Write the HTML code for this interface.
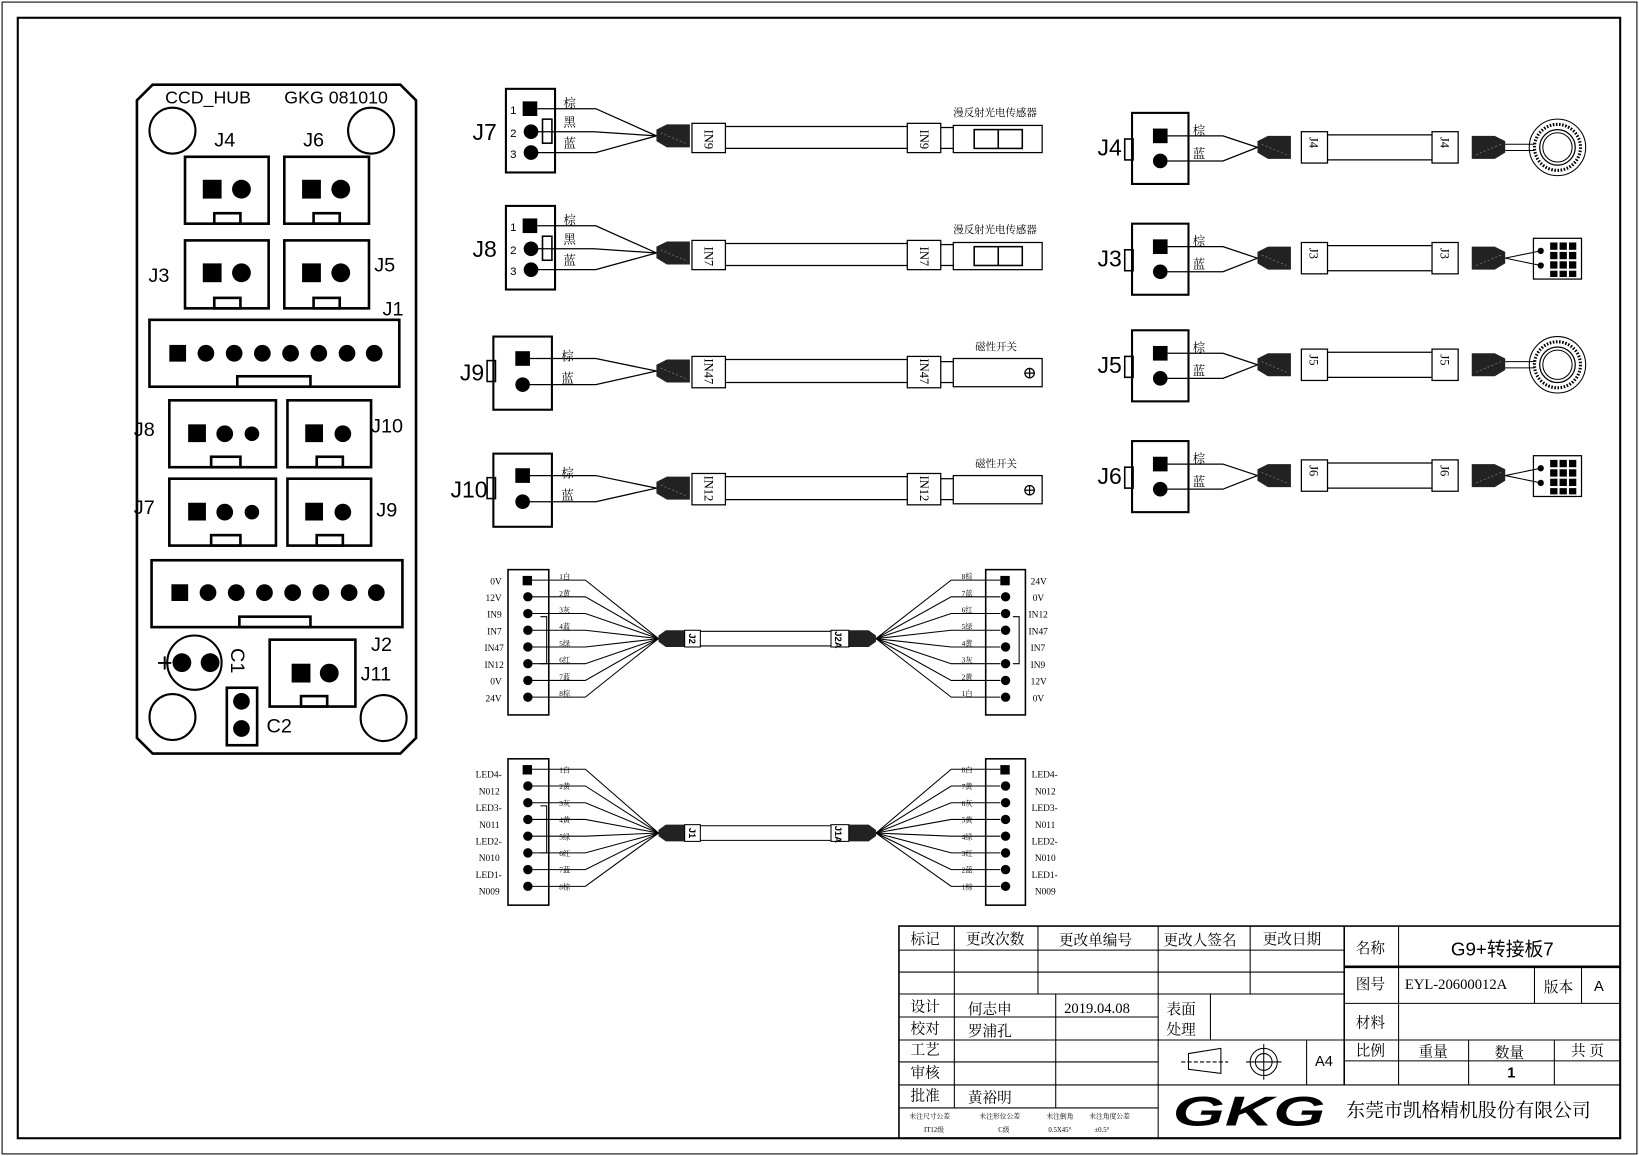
<!DOCTYPE html>
<html><head><meta charset="utf-8"><style>
html,body{margin:0;padding:0;background:#fff}
svg{display:block}
text{font-family:"Liberation Serif","Noto Serif CJK SC","Noto Sans CJK SC",serif;fill:#000}
.s{font-family:"Liberation Sans","Noto Sans CJK SC",sans-serif}
</style></head><body>
<svg width="1639" height="1156" viewBox="0 0 1568 1106" preserveAspectRatio="none" xmlns="http://www.w3.org/2000/svg">
<defs>
<g id="conL"><polygon points="0,-6 10,-11 32,-11 32,11 10,11 0,5" fill="#222"/><line x1="4" y1="-3" x2="30" y2="8" stroke="#888" stroke-width="0.6" stroke-dasharray="2,2"/></g>
</defs>
<g fill="none" stroke="#000">
<rect x="2" y="2" width="1564" height="1102" stroke-width="1"/>
<rect x="17" y="17" width="1533" height="1072" stroke-width="2"/>
</g>

<!-- PCB -->
<g fill="none" stroke="#000" stroke-width="2.5">
<polygon points="146,81 383,81 398,96 398,706 383,721 146,721 131,706 131,96"/>
<circle cx="165" cy="125" r="22" stroke-width="2"/><circle cx="355" cy="125" r="22" stroke-width="2"/>
<circle cx="165" cy="686" r="22" stroke-width="2"/><circle cx="367" cy="687" r="22" stroke-width="2"/>
<rect x="177" y="150" width="80" height="64"/><rect x="205" y="204" width="25" height="10"/>
<rect x="272" y="150" width="81" height="64"/><rect x="300" y="204" width="25" height="10"/>
<rect x="177" y="230" width="80" height="65"/><rect x="205" y="285" width="25" height="10"/>
<rect x="272" y="230" width="81" height="65"/><rect x="300" y="285" width="25" height="10"/>
<rect x="143" y="306" width="239" height="64"/><rect x="227" y="360" width="70" height="10"/>
<rect x="162" y="383" width="102" height="64"/><rect x="202" y="437" width="28" height="10"/>
<rect x="275" y="383" width="80" height="64"/><rect x="303" y="437" width="25" height="10"/>
<rect x="162" y="458" width="102" height="64"/><rect x="202" y="512" width="28" height="10"/>
<rect x="275" y="458" width="80" height="64"/><rect x="303" y="512" width="25" height="10"/>
<rect x="145" y="536" width="240" height="64"/><rect x="229" y="590" width="68" height="10"/>
<circle cx="186" cy="634" r="26" stroke-width="2"/>
<rect x="258" y="612" width="82" height="64"/><rect x="288" y="666" width="25" height="10"/>
<rect x="217" y="658" width="29" height="55"/>
</g>
<g fill="#000">
<rect x="194" y="172" width="18" height="18"/><circle cx="231" cy="181" r="9"/>
<rect x="289" y="172" width="18" height="18"/><circle cx="326" cy="181" r="9"/>
<rect x="194" y="252" width="18" height="18"/><circle cx="231" cy="261" r="9"/>
<rect x="289" y="252" width="18" height="18"/><circle cx="326" cy="261" r="9"/>
<rect x="162" y="330" width="16" height="16"/>
<circle cx="197" cy="338" r="8"/><circle cx="224" cy="338" r="8"/><circle cx="251" cy="338" r="8"/><circle cx="278" cy="338" r="8"/><circle cx="305" cy="338" r="8"/><circle cx="332" cy="338" r="8"/><circle cx="358" cy="338" r="8"/>
<rect x="180" y="406" width="17" height="17"/><circle cx="215" cy="415" r="8"/><circle cx="241" cy="415" r="7"/>
<rect x="292" y="406" width="17" height="17"/><circle cx="328" cy="415" r="8"/>
<rect x="180" y="481" width="17" height="17"/><circle cx="215" cy="490" r="8"/><circle cx="241" cy="490" r="7"/>
<rect x="292" y="481" width="17" height="17"/><circle cx="328" cy="490" r="8"/>
<rect x="164" y="559" width="16" height="16"/>
<circle cx="199" cy="567" r="8"/><circle cx="226" cy="567" r="8"/><circle cx="253" cy="567" r="8"/><circle cx="280" cy="567" r="8"/><circle cx="307" cy="567" r="8"/><circle cx="334" cy="567" r="8"/><circle cx="360" cy="567" r="8"/>
<circle cx="174" cy="634" r="9"/><circle cx="201" cy="634" r="9"/>
<rect x="279" y="635" width="18" height="18"/><circle cx="315" cy="644" r="9"/>
<circle cx="231" cy="671" r="8"/><circle cx="231" cy="697" r="8"/>
</g>
<g class="s" font-size="19">
<text x="158" y="99" font-size="17" class="s">CCD_HUB</text><text x="272" y="99" font-size="17" class="s">GKG  081010</text>
<text x="205" y="140" class="s">J4</text><text x="290" y="140" class="s">J6</text>
<text x="142" y="270" class="s">J3</text><text x="358" y="260" class="s">J5</text>
<text x="366" y="302" class="s">J1</text>
<text x="128" y="417" class="s">J8</text><text x="355" y="414" class="s">J10</text>
<text x="128" y="492" class="s">J7</text><text x="360" y="494" class="s">J9</text>
<text x="355" y="623" class="s">J2</text><text x="345" y="651" class="s">J11</text>
<text x="150" y="643" font-size="26" class="s">+</text>
<text x="255" y="701" class="s">C2</text>
<text class="s" transform="translate(221,620) rotate(90)">C1</text>
</g>

<!-- J7 / J8 sensor rows -->
<g id="rowJ7">
<g fill="none" stroke="#000" stroke-width="2"><rect x="484" y="85" width="47" height="80"/><rect x="519" y="114" width="9" height="23" stroke-width="1.5"/></g>
<rect x="500" y="97" width="14" height="14" fill="#000"/><circle cx="508" cy="126" r="7"/><circle cx="508" cy="146" r="7"/>
<g fill="none" stroke="#000" stroke-width="1.2">
<polyline points="514,104 570,104 628,130"/><polyline points="514,126 568,126 628,130"/><polyline points="514,146 570,146 628,130"/>
<rect x="662" y="118" width="32" height="28"/><line x1="694" y1="121" x2="868" y2="121"/><line x1="694" y1="142" x2="868" y2="142"/>
<rect x="868" y="118" width="32" height="28"/><line x1="900" y1="122" x2="912" y2="122"/><line x1="900" y1="142" x2="912" y2="142"/>
<rect x="912" y="120" width="85" height="26"/><rect x="932" y="124" width="46" height="18" stroke-width="1.5"/><line x1="955" y1="124" x2="955" y2="142" stroke-width="1.5"/>
</g>
<use href="#conL" x="628" y="130"/>
<text x="488" y="109" font-size="11" class="s">1</text><text x="488" y="131" font-size="11" class="s">2</text><text x="488" y="151" font-size="11" class="s">3</text>
<text x="539" y="103" font-size="12">棕</text><text x="539" y="121" font-size="12">黑</text><text x="539" y="141" font-size="12">蓝</text>
<text x="912" y="111" font-size="10">漫反射光电传感器</text>
<text transform="translate(674,124) rotate(90)" font-size="12">IN9</text><text transform="translate(880,124) rotate(90)" font-size="12">IN9</text>
<text x="452" y="134" font-size="22" class="s">J7</text>
</g>
<g transform="translate(0,112)">
<g fill="none" stroke="#000" stroke-width="2"><rect x="484" y="85" width="47" height="80"/><rect x="519" y="114" width="9" height="23" stroke-width="1.5"/></g>
<rect x="500" y="97" width="14" height="14" fill="#000"/><circle cx="508" cy="126" r="7"/><circle cx="508" cy="146" r="7"/>
<g fill="none" stroke="#000" stroke-width="1.2">
<polyline points="514,104 570,104 628,130"/><polyline points="514,126 568,126 628,130"/><polyline points="514,146 570,146 628,130"/>
<rect x="662" y="118" width="32" height="28"/><line x1="694" y1="121" x2="868" y2="121"/><line x1="694" y1="142" x2="868" y2="142"/>
<rect x="868" y="118" width="32" height="28"/><line x1="900" y1="122" x2="912" y2="122"/><line x1="900" y1="142" x2="912" y2="142"/>
<rect x="912" y="120" width="85" height="26"/><rect x="932" y="124" width="46" height="18" stroke-width="1.5"/><line x1="955" y1="124" x2="955" y2="142" stroke-width="1.5"/>
</g>
<use href="#conL" x="628" y="130"/>
<text x="488" y="109" font-size="11" class="s">1</text><text x="488" y="131" font-size="11" class="s">2</text><text x="488" y="151" font-size="11" class="s">3</text>
<text x="539" y="103" font-size="12">棕</text><text x="539" y="121" font-size="12">黑</text><text x="539" y="141" font-size="12">蓝</text>
<text x="912" y="111" font-size="10">漫反射光电传感器</text>
<text transform="translate(674,124) rotate(90)" font-size="12">IN7</text><text transform="translate(880,124) rotate(90)" font-size="12">IN7</text>
<text x="452" y="134" font-size="22" class="s">J8</text>
</g>

<!-- J9 / J10 -->
<g>
<g fill="none" stroke="#000" stroke-width="2"><rect x="472" y="322" width="56" height="70"/><rect x="466" y="345" width="8" height="20" stroke-width="1.5"/></g>
<rect x="493" y="336" width="14" height="14" fill="#000"/><circle cx="500" cy="368" r="7"/>
<g fill="none" stroke="#000" stroke-width="1.2">
<polyline points="507,343 570,343 628,355"/><polyline points="507,368 570,368 628,355"/>
<rect x="662" y="341" width="32" height="30"/><line x1="694" y1="344" x2="868" y2="344"/><line x1="694" y1="366" x2="868" y2="366"/>
<rect x="868" y="341" width="32" height="30"/><line x1="900" y1="346" x2="912" y2="346"/><line x1="900" y1="366" x2="912" y2="366"/>
<rect x="912" y="343" width="85" height="27"/><circle cx="985" cy="357" r="4.5"/><line x1="980" y1="357" x2="990" y2="357"/><line x1="985" y1="352" x2="985" y2="362"/>
</g>
<use href="#conL" x="628" y="355"/>
<text x="537" y="345" font-size="12">棕</text><text x="537" y="366" font-size="12">蓝</text>
<text x="933" y="335" font-size="10">磁性开关</text>
<text transform="translate(674,343) rotate(90)" font-size="12">IN47</text><text transform="translate(880,343) rotate(90)" font-size="12">IN47</text>
<text x="440" y="364" font-size="22" class="s">J9</text>
</g>
<g transform="translate(0,112)">
<g fill="none" stroke="#000" stroke-width="2"><rect x="472" y="322" width="56" height="70"/><rect x="466" y="345" width="8" height="20" stroke-width="1.5"/></g>
<rect x="493" y="336" width="14" height="14" fill="#000"/><circle cx="500" cy="368" r="7"/>
<g fill="none" stroke="#000" stroke-width="1.2">
<polyline points="507,343 570,343 628,355"/><polyline points="507,368 570,368 628,355"/>
<rect x="662" y="341" width="32" height="30"/><line x1="694" y1="344" x2="868" y2="344"/><line x1="694" y1="366" x2="868" y2="366"/>
<rect x="868" y="341" width="32" height="30"/><line x1="900" y1="346" x2="912" y2="346"/><line x1="900" y1="366" x2="912" y2="366"/>
<rect x="912" y="343" width="85" height="27"/><circle cx="985" cy="357" r="4.5"/><line x1="980" y1="357" x2="990" y2="357"/><line x1="985" y1="352" x2="985" y2="362"/>
</g>
<use href="#conL" x="628" y="355"/>
<text x="537" y="345" font-size="12">棕</text><text x="537" y="366" font-size="12">蓝</text>
<text x="933" y="335" font-size="10">磁性开关</text>
<text transform="translate(674,343) rotate(90)" font-size="12">IN12</text><text transform="translate(880,343) rotate(90)" font-size="12">IN12</text>
<text x="431" y="364" font-size="22" class="s">J10</text>
</g>

<!-- right column rows -->
<g id="rJ4">
<g fill="none" stroke="#000" stroke-width="2"><rect x="1083" y="108" width="54" height="68"/><rect x="1076" y="133" width="8" height="20" stroke-width="1.5"/></g>
<rect x="1103" y="123" width="14" height="14" fill="#000"/><circle cx="1110" cy="154" r="7"/>
<g fill="none" stroke="#000" stroke-width="1.2">
<polyline points="1117,130 1170,130 1203,141"/><polyline points="1117,154 1170,154 1203,141"/>
<rect x="1245" y="126" width="25" height="30"/><line x1="1270" y1="129" x2="1370" y2="129"/><line x1="1270" y1="153" x2="1370" y2="153"/>
<rect x="1370" y="126" width="25" height="30"/>
</g>
<use href="#conL" x="1203" y="141"/><g transform="translate(1440,141) scale(-1,1)"><use href="#conL" x="0" y="0"/></g>
<text x="1141" y="129" font-size="12">棕</text><text x="1141" y="151" font-size="12">蓝</text>
<text transform="translate(1253,131) rotate(90)" font-size="12">J4</text><text transform="translate(1378,131) rotate(90)" font-size="12">J4</text>
<text x="1050" y="149" font-size="22" class="s">J4</text>
</g>
<g transform="translate(0,106)">
<g fill="none" stroke="#000" stroke-width="2"><rect x="1083" y="108" width="54" height="68"/><rect x="1076" y="133" width="8" height="20" stroke-width="1.5"/></g>
<rect x="1103" y="123" width="14" height="14" fill="#000"/><circle cx="1110" cy="154" r="7"/>
<g fill="none" stroke="#000" stroke-width="1.2">
<polyline points="1117,130 1170,130 1203,141"/><polyline points="1117,154 1170,154 1203,141"/>
<rect x="1245" y="126" width="25" height="30"/><line x1="1270" y1="129" x2="1370" y2="129"/><line x1="1270" y1="153" x2="1370" y2="153"/>
<rect x="1370" y="126" width="25" height="30"/>
</g>
<use href="#conL" x="1203" y="141"/><g transform="translate(1440,141) scale(-1,1)"><use href="#conL" x="0" y="0"/></g>
<text x="1141" y="129" font-size="12">棕</text><text x="1141" y="151" font-size="12">蓝</text>
<text transform="translate(1253,131) rotate(90)" font-size="12">J3</text><text transform="translate(1378,131) rotate(90)" font-size="12">J3</text>
<text x="1050" y="149" font-size="22" class="s">J3</text>
</g>
<g transform="translate(0,208)">
<g fill="none" stroke="#000" stroke-width="2"><rect x="1083" y="108" width="54" height="68"/><rect x="1076" y="133" width="8" height="20" stroke-width="1.5"/></g>
<rect x="1103" y="123" width="14" height="14" fill="#000"/><circle cx="1110" cy="154" r="7"/>
<g fill="none" stroke="#000" stroke-width="1.2">
<polyline points="1117,130 1170,130 1203,141"/><polyline points="1117,154 1170,154 1203,141"/>
<rect x="1245" y="126" width="25" height="30"/><line x1="1270" y1="129" x2="1370" y2="129"/><line x1="1270" y1="153" x2="1370" y2="153"/>
<rect x="1370" y="126" width="25" height="30"/>
</g>
<use href="#conL" x="1203" y="141"/><g transform="translate(1440,141) scale(-1,1)"><use href="#conL" x="0" y="0"/></g>
<text x="1141" y="129" font-size="12">棕</text><text x="1141" y="151" font-size="12">蓝</text>
<text transform="translate(1253,131) rotate(90)" font-size="12">J5</text><text transform="translate(1378,131) rotate(90)" font-size="12">J5</text>
<text x="1050" y="149" font-size="22" class="s">J5</text>
</g>
<g transform="translate(0,314)">
<g fill="none" stroke="#000" stroke-width="2"><rect x="1083" y="108" width="54" height="68"/><rect x="1076" y="133" width="8" height="20" stroke-width="1.5"/></g>
<rect x="1103" y="123" width="14" height="14" fill="#000"/><circle cx="1110" cy="154" r="7"/>
<g fill="none" stroke="#000" stroke-width="1.2">
<polyline points="1117,130 1170,130 1203,141"/><polyline points="1117,154 1170,154 1203,141"/>
<rect x="1245" y="126" width="25" height="30"/><line x1="1270" y1="129" x2="1370" y2="129"/><line x1="1270" y1="153" x2="1370" y2="153"/>
<rect x="1370" y="126" width="25" height="30"/>
</g>
<use href="#conL" x="1203" y="141"/><g transform="translate(1440,141) scale(-1,1)"><use href="#conL" x="0" y="0"/></g>
<text x="1141" y="129" font-size="12">棕</text><text x="1141" y="151" font-size="12">蓝</text>
<text transform="translate(1253,131) rotate(90)" font-size="12">J6</text><text transform="translate(1378,131) rotate(90)" font-size="12">J6</text>
<text x="1050" y="149" font-size="22" class="s">J6</text>
</g>
<!-- ring lights -->
<g fill="none" stroke="#000">
<g transform="translate(1490,141)"><circle r="27" stroke-width="1"/><circle r="22" stroke-width="3" stroke-dasharray="1.5,1.5"/><circle r="17" stroke-width="1.2"/><circle r="14" stroke-width="1"/><line x1="-50" y1="-3" x2="-22" y2="-3"/><line x1="-50" y1="3" x2="-22" y2="3"/></g>
<g transform="translate(1490,349)"><circle r="27" stroke-width="1"/><circle r="22" stroke-width="3" stroke-dasharray="1.5,1.5"/><circle r="17" stroke-width="1.2"/><circle r="14" stroke-width="1"/><line x1="-50" y1="-3" x2="-22" y2="-3"/><line x1="-50" y1="3" x2="-22" y2="3"/></g>
</g>
<!-- grid devices -->
<g id="grid" transform="translate(0,0)">
<rect x="1467" y="228" width="46" height="39" fill="none" stroke="#000" stroke-width="1.2"/>
<polyline points="1440,247 1474,240" fill="none" stroke="#000"/><polyline points="1440,247 1474,254" fill="none" stroke="#000"/>
<circle cx="1474" cy="240" r="3"/><circle cx="1474" cy="254" r="3"/>
<g fill="#000"><rect x="1483" y="232" width="7" height="7"/><rect x="1492" y="232" width="7" height="7"/><rect x="1501" y="232" width="7" height="7"/>
<rect x="1483" y="241" width="7" height="7"/><rect x="1492" y="241" width="7" height="7"/><rect x="1501" y="241" width="7" height="7"/>
<rect x="1483" y="250" width="7" height="7"/><rect x="1492" y="250" width="7" height="7"/><rect x="1501" y="250" width="7" height="7"/>
<rect x="1483" y="259" width="7" height="6"/><rect x="1492" y="259" width="7" height="6"/><rect x="1501" y="259" width="7" height="6"/></g>
</g>
<g transform="translate(0,208)">
<rect x="1467" y="228" width="46" height="39" fill="none" stroke="#000" stroke-width="1.2"/>
<polyline points="1440,247 1474,240" fill="none" stroke="#000"/><polyline points="1440,247 1474,254" fill="none" stroke="#000"/>
<circle cx="1474" cy="240" r="3"/><circle cx="1474" cy="254" r="3"/>
<g fill="#000"><rect x="1483" y="232" width="7" height="7"/><rect x="1492" y="232" width="7" height="7"/><rect x="1501" y="232" width="7" height="7"/>
<rect x="1483" y="241" width="7" height="7"/><rect x="1492" y="241" width="7" height="7"/><rect x="1501" y="241" width="7" height="7"/>
<rect x="1483" y="250" width="7" height="7"/><rect x="1492" y="250" width="7" height="7"/><rect x="1501" y="250" width="7" height="7"/>
<rect x="1483" y="259" width="7" height="6"/><rect x="1492" y="259" width="7" height="6"/><rect x="1501" y="259" width="7" height="6"/></g>
</g>

<!-- Cable J2 -->
<g>
<g fill="none" stroke="#000" stroke-width="1.5"><rect x="486" y="545" width="39" height="139"/><rect x="943" y="545" width="38" height="139"/>
<polyline points="517,590 523,590 523,635 517,635" stroke-width="1"/><polyline points="969,590 975,590 975,635 969,635" stroke-width="1"/></g>
<rect x="500" y="551" width="9" height="9"/><circle cx="505" cy="571" r="4.5"/><circle cx="505" cy="587" r="4.5"/><circle cx="505" cy="603" r="4.5"/><circle cx="505" cy="619" r="4.5"/><circle cx="505" cy="635" r="4.5"/><circle cx="505" cy="651" r="4.5"/><circle cx="505" cy="667" r="4.5"/>
<rect x="957" y="551" width="9" height="9"/><circle cx="962" cy="571" r="4.5"/><circle cx="962" cy="587" r="4.5"/><circle cx="962" cy="603" r="4.5"/><circle cx="962" cy="619" r="4.5"/><circle cx="962" cy="635" r="4.5"/><circle cx="962" cy="651" r="4.5"/><circle cx="962" cy="667" r="4.5"/>
<g fill="none" stroke="#000" stroke-width="1">
<polyline points="509,555 560,555 630,611"/><polyline points="509,571 560,571 630,611"/><polyline points="509,587 560,587 630,611"/><polyline points="509,603 560,603 630,611"/><polyline points="509,619 560,619 630,611"/><polyline points="509,635 560,635 630,611"/><polyline points="509,651 560,651 630,611"/><polyline points="509,667 560,667 630,611"/>
<polyline points="957,555 910,555 838,611"/><polyline points="957,571 910,571 838,611"/><polyline points="957,587 910,587 838,611"/><polyline points="957,603 910,603 838,611"/><polyline points="957,619 910,619 838,611"/><polyline points="957,635 910,635 838,611"/><polyline points="957,651 910,651 838,611"/><polyline points="957,667 910,667 838,611"/>
<line x1="670" y1="604" x2="795" y2="604"/><line x1="670" y1="618" x2="795" y2="618"/>
</g>
<polygon points="630,608 637,603 655,603 655,619 637,619 630,614" fill="#222"/>
<polygon points="838,608 831,603 812,603 812,619 831,619 838,614" fill="#222"/>
<rect x="655" y="603" width="15" height="16" fill="#fff" stroke="#000"/><rect x="795" y="603" width="17" height="16" fill="#fff" stroke="#000"/>
<text transform="translate(659,606) rotate(90)" font-size="9" font-weight="bold" class="s">J2</text>
<text transform="translate(799,604) rotate(90)" font-size="9" font-weight="bold" class="s">J2A</text>
<g font-size="9" text-anchor="end"><text x="480" y="559">0V</text><text x="480" y="575">12V</text><text x="480" y="591">IN9</text><text x="480" y="607">IN7</text><text x="482" y="623">IN47</text><text x="482" y="639">IN12</text><text x="480" y="655">0V</text><text x="480" y="671">24V</text></g>
<g font-size="9"><text x="986" y="559">24V</text><text x="988" y="575">0V</text><text x="984" y="591">IN12</text><text x="984" y="607">IN47</text><text x="986" y="623">IN7</text><text x="986" y="639">IN9</text><text x="986" y="655">12V</text><text x="988" y="671">0V</text></g>
<g font-size="7"><text x="535" y="554">1白</text><text x="535" y="570">2黄</text><text x="535" y="586">3灰</text><text x="535" y="602">4蓝</text><text x="535" y="618">5绿</text><text x="535" y="634">6红</text><text x="535" y="650">7蓝</text><text x="535" y="666">8棕</text>
<text x="920" y="554">8棕</text><text x="920" y="570">7蓝</text><text x="920" y="586">6红</text><text x="920" y="602">5绿</text><text x="920" y="618">4黄</text><text x="920" y="634">3灰</text><text x="920" y="650">2黄</text><text x="920" y="666">1白</text></g>
</g>
<!-- Cable J1 -->
<g transform="translate(0,181)">
<g fill="none" stroke="#000" stroke-width="1.5"><rect x="486" y="545" width="39" height="140"/><rect x="943" y="545" width="38" height="140"/>
<polyline points="517,590 523,590 523,635 517,635" stroke-width="1"/></g>
<rect x="500" y="551" width="9" height="9"/><circle cx="505" cy="571" r="4.5"/><circle cx="505" cy="587" r="4.5"/><circle cx="505" cy="603" r="4.5"/><circle cx="505" cy="619" r="4.5"/><circle cx="505" cy="635" r="4.5"/><circle cx="505" cy="651" r="4.5"/><circle cx="505" cy="667" r="4.5"/>
<rect x="957" y="551" width="9" height="9"/><circle cx="962" cy="571" r="4.5"/><circle cx="962" cy="587" r="4.5"/><circle cx="962" cy="603" r="4.5"/><circle cx="962" cy="619" r="4.5"/><circle cx="962" cy="635" r="4.5"/><circle cx="962" cy="651" r="4.5"/><circle cx="962" cy="667" r="4.5"/>
<g fill="none" stroke="#000" stroke-width="1">
<polyline points="509,555 560,555 630,616"/><polyline points="509,571 560,571 630,616"/><polyline points="509,587 560,587 630,616"/><polyline points="509,603 560,603 630,616"/><polyline points="509,619 560,619 630,616"/><polyline points="509,635 560,635 630,616"/><polyline points="509,651 560,651 630,616"/><polyline points="509,667 560,667 630,616"/>
<polyline points="957,555 910,555 838,616"/><polyline points="957,571 910,571 838,616"/><polyline points="957,587 910,587 838,616"/><polyline points="957,603 910,603 838,616"/><polyline points="957,619 910,619 838,616"/><polyline points="957,635 910,635 838,616"/><polyline points="957,651 910,651 838,616"/><polyline points="957,667 910,667 838,616"/>
<line x1="670" y1="609" x2="795" y2="609"/><line x1="670" y1="623" x2="795" y2="623"/>
</g>
<polygon points="630,613 637,608 655,608 655,624 637,624 630,619" fill="#222"/>
<polygon points="838,613 831,608 812,608 812,624 831,624 838,619" fill="#222"/>
<rect x="655" y="608" width="15" height="16" fill="#fff" stroke="#000"/><rect x="795" y="608" width="17" height="16" fill="#fff" stroke="#000"/>
<text transform="translate(659,611) rotate(90)" font-size="9" font-weight="bold" class="s">J1</text>
<text transform="translate(799,609) rotate(90)" font-size="9" font-weight="bold" class="s">J1A</text>
<g font-size="9" text-anchor="end"><text x="480" y="563">LED4-</text><text x="478" y="579">N012</text><text x="480" y="595">LED3-</text><text x="478" y="611">N011</text><text x="480" y="627">LED2-</text><text x="478" y="643">N010</text><text x="480" y="659">LED1-</text><text x="478" y="675">N009</text></g>
<g font-size="9"><text x="987" y="563">LED4-</text><text x="990" y="579">N012</text><text x="987" y="595">LED3-</text><text x="990" y="611">N011</text><text x="987" y="627">LED2-</text><text x="990" y="643">N010</text><text x="987" y="659">LED1-</text><text x="990" y="675">N009</text></g>
<g font-size="7"><text x="535" y="558">1白</text><text x="535" y="574">2黄</text><text x="535" y="590">3灰</text><text x="535" y="606">4黄</text><text x="535" y="622">5绿</text><text x="535" y="638">6红</text><text x="535" y="654">7蓝</text><text x="535" y="670">8棕</text>
<text x="920" y="558">8白</text><text x="920" y="574">7黄</text><text x="920" y="590">6灰</text><text x="920" y="606">5黄</text><text x="920" y="622">4绿</text><text x="920" y="638">3红</text><text x="920" y="654">2蓝</text><text x="920" y="670">1棕</text></g>
</g>

<!-- Title block -->
<g fill="none" stroke="#000" stroke-width="1">
<rect x="860" y="886" width="690" height="203" stroke-width="1.5"/>
<line x1="1286" y1="886" x2="1286" y2="1038" stroke-width="1.5"/>
<line x1="860" y1="909" x2="1286" y2="909"/><line x1="860" y1="930" x2="1286" y2="930"/><line x1="860" y1="951" x2="1286" y2="951"/>
<line x1="913" y1="886" x2="913" y2="1060"/><line x1="993" y1="886" x2="993" y2="951"/><line x1="1108" y1="886" x2="1108" y2="1089"/><line x1="1196" y1="886" x2="1196" y2="951"/>
<line x1="1010" y1="951" x2="1010" y2="1060"/>
<line x1="860" y1="973" x2="1108" y2="973"/><line x1="860" y1="995" x2="1286" y2="995"/><line x1="860" y1="1016" x2="1108" y2="1016"/><line x1="860" y1="1038" x2="1550" y2="1038"/><line x1="860" y1="1060" x2="1108" y2="1060"/>
<line x1="1158" y1="951" x2="1158" y2="995"/><line x1="1250" y1="995" x2="1250" y2="1038"/>
<line x1="1286" y1="925" x2="1550" y2="925" stroke-width="2.5"/><line x1="1286" y1="960" x2="1550" y2="960"/><line x1="1286" y1="995" x2="1550" y2="995"/><line x1="1286" y1="1015" x2="1550" y2="1015"/>
<line x1="1338" y1="886" x2="1338" y2="1038"/><line x1="1468" y1="925" x2="1468" y2="960"/><line x1="1513" y1="925" x2="1513" y2="960"/>
<line x1="1405" y1="995" x2="1405" y2="1038"/><line x1="1487" y1="995" x2="1487" y2="1038"/>
<polygon points="1137,1008 1168,1003 1168,1027 1137,1023"/><line x1="1130" y1="1016" x2="1175" y2="1016" stroke-dasharray="4,2"/>
<circle cx="1209" cy="1016" r="13"/><circle cx="1209" cy="1016" r="8"/><line x1="1192" y1="1016" x2="1226" y2="1016"/><line x1="1209" y1="999" x2="1209" y2="1033"/>
</g>
<g font-size="14">
<text x="871" y="903">标记</text><text x="924" y="903">更改次数</text><text x="1013" y="904">更改单编号</text><text x="1113" y="904">更改人签名</text><text x="1208" y="903">更改日期</text>
<text x="871" y="968">设计</text><text x="926" y="970">何志申</text><text x="1018" y="969">2019.04.08</text><text x="1116" y="970">表面</text>
<text x="871" y="989">校对</text><text x="926" y="991">罗浦孔</text><text x="1116" y="990">处理</text>
<text x="871" y="1009">工艺</text><text x="871" y="1031">审核</text><text x="871" y="1053">批准</text><text x="926" y="1055">黄裕明</text>
<text x="1258" y="1020" class="s">A4</text>
<text x="1297" y="912">名称</text><text x="1388" y="914" font-size="18" class="s">G9+转接板7</text>
<text x="1297" y="946">图号</text><text x="1344" y="946">EYL-20600012A</text><text x="1477" y="949">版本</text><text x="1525" y="948" class="s">A</text>
<text x="1297" y="983">材料</text>
<text x="1297" y="1010">比例</text><text x="1357" y="1011">重量</text><text x="1430" y="1012">数量</text><text x="1503" y="1010">共 页</text>
<text x="1442" y="1031" font-weight="bold" class="s">1</text>
<text x="1288" y="1068" font-size="18">东莞市凯格精机股份有限公司</text>
</g>
<g font-size="6.5"><text x="870" y="1070">未注尺寸公差</text><text x="937" y="1070">未注形位公差</text><text x="1001" y="1070">未注倒角</text><text x="1042" y="1070">未注角度公差</text>
<text x="884" y="1083">IT12级</text><text x="955" y="1083">C级</text><text x="1003" y="1083">0.5X45°</text><text x="1047" y="1083">±0.5°</text></g>
<text x="1122" y="1077" font-size="40" font-weight="900" font-style="italic" class="s" textLength="146" lengthAdjust="spacingAndGlyphs" style="font-family:'Liberation Sans',sans-serif">GKG</text>
</svg>
</body></html>
